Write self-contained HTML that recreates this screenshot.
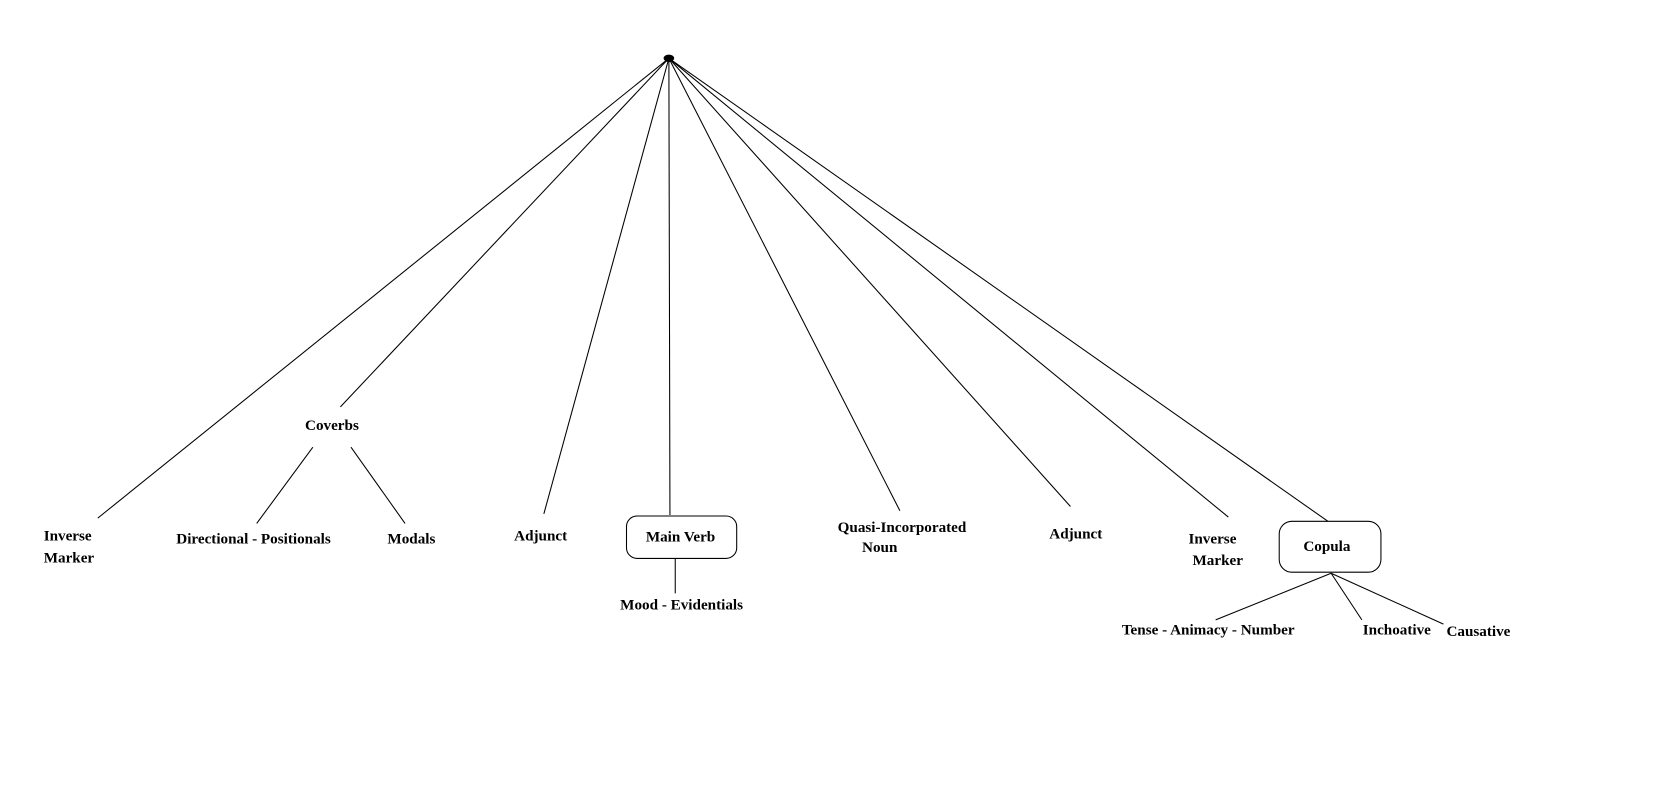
<!DOCTYPE html>
<html><head><meta charset="utf-8"><style>
html,body{margin:0;padding:0;background:#fff;}
svg{display:block;}
text{font-family:"Liberation Serif",serif;font-weight:bold;font-size:14.3px;fill:#000;}
</style></head><body>
<svg width="1662" height="800" viewBox="0 0 1568 755" xmlns="http://www.w3.org/2000/svg">
<g stroke="#000" stroke-width="1" fill="none">
<line x1="631" y1="55" x2="92" y2="489"/>
<line x1="631" y1="55" x2="321" y2="384"/>
<line x1="631" y1="55" x2="513" y2="485"/>
<line x1="631" y1="55" x2="632" y2="486"/>
<line x1="631" y1="55" x2="849" y2="482"/>
<line x1="631" y1="55" x2="1010" y2="478"/>
<line x1="631" y1="55" x2="1159" y2="488"/>
<line x1="631" y1="55" x2="1253" y2="492"/>
<line x1="295" y1="422" x2="242" y2="494"/>
<line x1="331" y1="422" x2="382" y2="494"/>
<rect x="591" y="487" width="104" height="40" rx="10" ry="10"/>
<line x1="637" y1="527" x2="637" y2="560"/>
<rect x="1207" y="492" width="96" height="48" rx="12" ry="12"/>
<line x1="1256" y1="541" x2="1147" y2="585"/>
<line x1="1256" y1="541" x2="1285" y2="585"/>
<line x1="1256" y1="541" x2="1362" y2="589"/>
</g>
<ellipse cx="631" cy="55" rx="5" ry="3.5" fill="#000"/>
<text x="41" y="510">Inverse</text>
<text x="41" y="531">Marker</text>
<text x="313" y="406" text-anchor="middle">Coverbs</text>
<text x="239" y="513" text-anchor="middle">Directional - Positionals</text>
<text x="388" y="513" text-anchor="middle">Modals</text>
<text x="510" y="510" text-anchor="middle">Adjunct</text>
<text x="642" y="511" text-anchor="middle">Main Verb</text>
<text x="643" y="575" text-anchor="middle">Mood - Evidentials</text>
<text x="851" y="502" text-anchor="middle">Quasi-Incorporated</text>
<text x="830" y="521" text-anchor="middle">Noun</text>
<text x="1015" y="508" text-anchor="middle">Adjunct</text>
<text x="1144" y="513" text-anchor="middle">Inverse</text>
<text x="1149" y="533" text-anchor="middle">Marker</text>
<text x="1252" y="520" text-anchor="middle">Copula</text>
<text x="1140" y="599" text-anchor="middle">Tense - Animacy - Number</text>
<text x="1318" y="599" text-anchor="middle">Inchoative</text>
<text x="1395" y="600" text-anchor="middle">Causative</text>
</svg>
</body></html>
